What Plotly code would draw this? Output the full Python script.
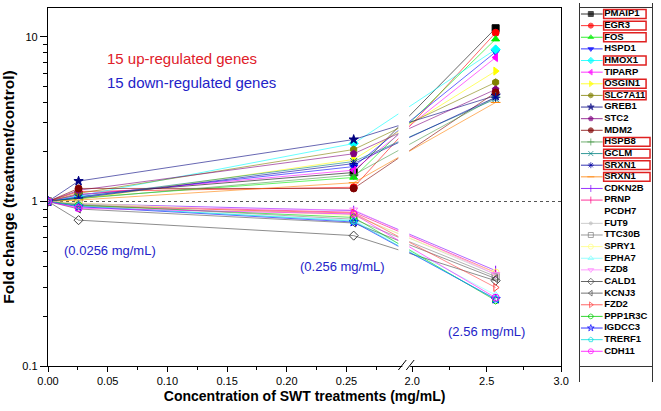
import numpy as np
import plotly.graph_objects as go

# doses (mg/mL); 0 = control, fold change 1
doses = [0, 0.0256, 0.256, 2.56]

up_genes = ["PMAIP1", "EGR3", "FOS", "HSPD1", "HMOX1", "TIPARP", "OSGIN1", "SLC7A11",
            "GREB1", "STC2", "MDM2", "HSPB8", "GCLM", "SRXN1", "SRXN1"]
up_low = [1.10, 1.15, 1.05, 1.07, 1.08, 1.10, 1.03, 1.12, 1.33, 1.17, 1.20, 1.04, 1.06, 1.05, 1.02]
up_mid = [1.50, 1.22, 1.40, 1.63, 2.25, 1.55, 1.80, 2.07, 2.38, 1.95, 1.20, 1.45, 1.75, 1.70, 1.30]
up_high = [11.3, 10.6, 9.7, 8.1, 8.4, 7.5, 6.2, 5.3, 4.4, 4.8, 4.6, 4.3, 4.2, 4.3, 4.0]
up_boxed = [1, 1, 1, 0, 1, 0, 1, 1, 0, 0, 0, 1, 1, 1, 1]

down_genes = ["CDKN2B", "PRNP", "PCDH7", "FUT9", "TTC30B", "SPRY1", "EPHA7", "FZD8",
              "CALD1", "KCNJ3", "FZD2", "PPP1R3C", "IGDCC3", "TRERF1", "CDH11"]
down_low = [0.97, 0.95, 0.96, 0.97, 0.96, 0.98, 0.93, 0.92, 0.77, 0.90, 0.94, 0.95, 0.93, 0.94, 0.91]
down_mid = [0.88, 0.86, 0.80, 0.83, 0.78, 0.82, 0.77, 0.89, 0.62, 0.74, 0.85, 0.80, 0.75, 0.76, 0.84]
down_high = [0.38, 0.37, 0.35, 0.36, 0.35, 0.37, 0.27, 0.36, 0.33, 0.34, 0.30, 0.25, 0.255, 0.255, 0.26]

x_major = [0, 0.05, 0.10, 0.15, 0.20, 0.25, 2.0, 2.5, 3.0]
x_labels = ["0.00", "0.05", "0.10", "0.15", "0.20", "0.25", "2.0", "2.5", "3.0"]
x_minor = [0.025, 0.075, 0.125, 0.175, 0.225, 0.275, 2.25, 2.75]

# Origin-like styles
up_colors = ["#000000", "#ff0000", "#00ee00", "#0000ff", "#00ffff", "#ff00ff", "#ffff00", "#808000",
             "#000080", "#800080", "#800000", "#4c9a4c", "#008080", "#0000a0", "#ff8000"]
up_symbols = ["square", "circle", "triangle-up", "triangle-down", "diamond", "triangle-left",
              "triangle-right", "hexagon", "star", "pentagon", "circle", "cross-thin-open",
              "x-thin-open", "asterisk-open", "line-ew-open"]
down_colors = ["#8000ff", "#ff0080", "#ffffff", "#c0c0c0", "#808080", "#ffff80", "#80ffff", "#ff80ff",
               "#404040", "#505050", "#ff4040", "#00cc00", "#0000ff", "#00dddd", "#ff00ff"]
down_symbols = ["line-ns-open", "line-ns-open", "circle", "circle", "square-open", "circle-open",
                "triangle-up-open", "triangle-down-open", "diamond-open", "triangle-left-open",
                "triangle-right-open", "hexagon-open", "star-open", "pentagon-open", "circle-open-dot"]
down_sizes = [7, 5, 7, 3, 7, 7, 7, 7, 7, 7, 7, 7, 7, 7, 7]

FONT = "Arial, Liberation Sans, sans-serif"


def brk(x):
    # broken x axis: 0..0.3 full scale, then 2.0..3.0 compressed
    x = np.asarray(x, dtype=float)
    return np.where(x <= 0.3, x, 0.305 + (x - 2.0) * 0.1248)


genes = up_genes + down_genes
colors = up_colors + down_colors
symbols = up_symbols + down_symbols
sizes = [7] * 15 + down_sizes
series = [[1, a, b, c] for a, b, c in zip(up_low + down_low, up_mid + down_mid, up_high + down_high)]

fig = go.Figure()

# y = 1 reference
fig.add_trace(go.Scatter(
    x=brk([0, 3.0]), y=[1, 1], mode="lines",
    line=dict(color="#555555", width=1.2, dash="dot"), showlegend=False, hoverinfo="skip"
))

for g, ys, c, s, sz in zip(genes, series, colors, symbols, sizes):
    fig.add_trace(go.Scatter(
        x=brk(doses), y=ys, mode="lines+markers", name=g,
        line=dict(color=c, width=0.6),
        marker=dict(symbol=s, size=sz, color=c, line=dict(color=c, width=1)),
        showlegend=False
    ))

# hand-made legend on its own axes
n = len(genes)
for i, (c, s) in enumerate(zip(colors, symbols)):
    fig.add_trace(go.Scatter(
        x=[1, 23], y=[i, i], mode="lines", line=dict(color=c, width=0.8),
        xaxis="x2", yaxis="y2", showlegend=False, hoverinfo="skip"
    ))
fig.add_trace(go.Scatter(
    x=[11] * n, y=list(range(n)), mode="markers",
    marker=dict(symbol=symbols, size=[min(5, v) for v in sizes], color=colors,
                line=dict(color=colors, width=1)),
    xaxis="x2", yaxis="y2", showlegend=False, hoverinfo="skip"
))
fig.add_trace(go.Scatter(
    x=[24.5] * n, y=list(range(n)), mode="text", text=genes, textposition="middle right",
    textfont=dict(family=FONT, size=9.5, color="black", weight="bold"),
    xaxis="x2", yaxis="y2", showlegend=False, hoverinfo="skip"
))

shapes = []
for i, b in enumerate(up_boxed):
    if b:
        shapes.append(dict(type="rect", xref="x2", yref="y2", x0=24, x1=67 if i < 11 else 71,
                           y0=i - 0.38, y1=i + 0.38, line=dict(color="#e02020", width=1.5)))


# pixel positions -> paper
def px(xp):
    return (xp - 48) / 612


def py(yp):
    return (382 - yp) / 379


# axis break: white gap + slashes
shapes += [
    dict(type="rect", xref="paper", yref="paper", x0=px(403), x1=px(414), y0=py(199), y1=py(10),
         fillcolor="white", line=dict(width=0), layer="above"),
    dict(type="rect", xref="paper", yref="paper", x0=px(403), x1=px(414), y0=py(364), y1=py(203),
         fillcolor="white", line=dict(width=0), layer="above"),
    dict(type="rect", xref="paper", yref="paper", x0=px(407), x1=px(415), y0=py(369), y1=py(363),
         fillcolor="white", line=dict(width=0), layer="above"),
    dict(type="line", xref="paper", yref="paper", x0=px(403), x1=px(411), y0=py(370), y1=py(360),
         line=dict(color="black", width=1)),
    dict(type="line", xref="paper", yref="paper", x0=px(411), x1=px(419), y0=py(370), y1=py(360),
         line=dict(color="black", width=1)),
]

annotations = [
    dict(text="15 up-regulated genes", x=px(106), y=py(58), color="#e0202a"),
    dict(text="15 down-regulated genes", x=px(106), y=py(82), color="#2323c8"),
    dict(text="(0.0256 mg/mL)", x=px(62), y=py(250), color="#2323c8", size=13),
    dict(text="(0.256 mg/mL)", x=px(301), y=py(266), color="#2323c8", size=13),
    dict(text="(2.56 mg/mL)", x=px(451), y=py(331), color="#2323c8", size=13),
]
annotations = [dict(text=a["text"], x=a["x"], y=a["y"], xref="paper", yref="paper",
                    xanchor="left", yanchor="middle", showarrow=False,
                    font=dict(family=FONT, size=a.get("size", 15), color=a["color"]))
               for a in annotations]

fig.update_layout(
    width=661, height=411,
    margin=dict(l=48, r=1, t=3, b=29),
    paper_bgcolor="white", plot_bgcolor="white",
    font=dict(family=FONT, size=11, color="black"),
    shapes=shapes, annotations=annotations,
    xaxis=dict(
        domain=[0, 520 / 612], range=[0, float(brk(3.0))],
        tickmode="array", tickvals=brk(x_major), ticktext=x_labels,
        ticks="outside", ticklen=5, tickwidth=1, tickcolor="black",
        minor=dict(tickmode="array", tickvals=brk(x_minor), ticks="outside", ticklen=3,
                   tickcolor="black", showgrid=False),
        showline=True, linecolor="black", linewidth=1.3, mirror=True,
        showgrid=False, zeroline=False,
        tickfont=dict(size=11),
        title=dict(text="Concentration of SWT treatments (mg/mL)", standoff=4,
                   font=dict(size=14, weight="bold")),
    ),
    yaxis=dict(
        domain=[16 / 379, 374 / 379], type="log", range=[-1, 1.176],
        tickmode="array", tickvals=[0.1, 1, 10], ticktext=["0.1", "1", "10"],
        ticks="outside", ticklen=7, tickwidth=1, tickcolor="black",
        minor=dict(tickmode="array",
                   tickvals=[0.2, 0.3, 0.4, 0.5, 0.6, 0.7, 0.8, 0.9, 2, 3, 4, 5, 6, 7, 8, 9],
                   ticks="outside", ticklen=4, tickcolor="black", showgrid=False),
        showline=True, linecolor="black", linewidth=1.3, mirror=True,
        showgrid=False, zeroline=False,
        tickfont=dict(size=11),
        title=dict(text="Fold change (treatment/control)", standoff=5,
                   font=dict(size=15.5, weight="bold")),
    ),
    xaxis2=dict(domain=[539 / 612, 1], range=[0, 73], showline=True, mirror=True,
                linecolor="#333333", linewidth=1, showticklabels=False, ticks="",
                showgrid=False, zeroline=False, fixedrange=True),
    yaxis2=dict(domain=[0, 1], range=[31.64, -0.946], anchor="x2", showline=True, mirror=True,
                linecolor="#333333", linewidth=1, showticklabels=False, ticks="",
                showgrid=False, zeroline=False, fixedrange=True),
)

# drop the default 8px page margin so the figure sits at the window's corner
fig.write_html("out.html", config={"displayModeBar": False},
               post_script="document.body.style.margin='0';")
